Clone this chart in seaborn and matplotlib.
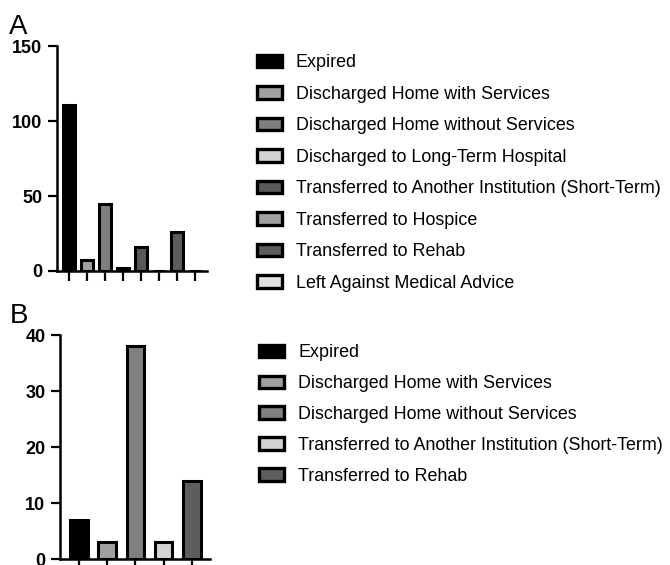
import matplotlib
matplotlib.use("Agg")
import matplotlib.pyplot as plt
from matplotlib.patches import Patch
import seaborn as sns
import pandas as pd

sns.set_theme(style="ticks")
plt.rcParams["font.family"] = ["Liberation Sans", "DejaVu Sans"]
plt.rcParams["text.color"] = "black"
plt.rcParams["xtick.color"] = "black"
plt.rcParams["ytick.color"] = "black"

# Panel A: discharge dispositions, all patients
cats_a = [
    "Expired",
    "Discharged Home with Services",
    "Discharged Home without Services",
    "Discharged to Long-Term Hospital",
    "Transferred to Another Institution (Short-Term)",
    "Transferred to Hospice",
    "Transferred to Rehab",
    "Left Against Medical Advice",
]
counts_a = [111, 7, 45, 2, 16, 0, 26, 0]
colors_a = ["#000000", "#a0a0a0", "#7f7f7f", "#d4d4d4",
            "#595959", "#a0a0a0", "#5c5c5c", "#e2e2e2"]

# Panel B: discharge dispositions, subgroup
cats_b = [
    "Expired",
    "Discharged Home with Services",
    "Discharged Home without Services",
    "Transferred to Another Institution (Short-Term)",
    "Transferred to Rehab",
]
counts_b = [7, 3, 38, 3, 14]
colors_b = ["#000000", "#a0a0a0", "#808080", "#d4d4d4", "#5e5e5e"]

yticks_a = [0, 50, 100, 150]
yticks_b = [0, 10, 20, 30, 40]

fig = plt.figure(figsize=(6.7, 5.65), dpi=100)
ax_a = fig.add_axes([0.085, 0.5204, 0.224, 0.398])
ax_b = fig.add_axes([0.0896, 0.0106, 0.224, 0.396])


def draw_panel(ax, cats, counts, colors, yticks, width, xmax, leg_anchor,
               spacing):
    df = pd.DataFrame({"cat": cats, "n": counts})
    sns.barplot(data=df, x="cat", y="n", hue="cat", order=cats,
                hue_order=cats, palette=colors, dodge=False, width=width,
                edgecolor="black", linewidth=2.2, legend=False, ax=ax,
                saturation=1)
    ax.set_xlim(-0.667, xmax)
    ax.set_ylim(yticks[0], yticks[-1])
    ax.set_yticks(yticks)
    ax.set_xticks(range(len(cats)))
    ax.set_xticklabels([])
    ax.set_xlabel("")
    ax.set_ylabel("")
    for lab in ax.get_yticklabels():
        lab.set_fontweight("bold")
        lab.set_fontsize(13)
    ax.tick_params(axis="y", direction="out", length=6.5, width=1.6,
                   color="black", pad=4)
    ax.tick_params(axis="x", direction="out", length=7.5, width=1.6,
                   color="black")
    for side in ("left", "bottom"):
        ax.spines[side].set_linewidth(1.8)
        ax.spines[side].set_color("black")
    for side in ("top", "right"):
        ax.spines[side].set_visible(False)
    ax.set_facecolor("white")

    handles = [Patch(facecolor=c, edgecolor="black", linewidth=2.4)
               for c in colors]
    fig.legend(handles, cats, loc="upper left", bbox_to_anchor=leg_anchor,
               frameon=False, fontsize=12.9, handlelength=1.4,
               handleheight=0.7, handletextpad=0.78, labelspacing=spacing,
               borderaxespad=0, borderpad=0)


draw_panel(ax_a, cats_a, counts_a, colors_a, yticks_a, 0.667, 7.667,
           (0.383, 0.904), 0.81)
draw_panel(ax_b, cats_b, counts_b, colors_b, yticks_b, 0.62, 4.65,
           (0.387, 0.391), 0.78)

fig.text(0.014, 0.976, "A", fontsize=20, va="top", ha="left")
fig.text(0.014, 0.463, "B", fontsize=20, va="top", ha="left")

fig.savefig("out.png", dpi=100, facecolor="white")
